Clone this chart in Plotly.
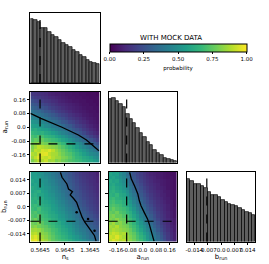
import numpy as np
import plotly.graph_objects as go

# ---------------- data ----------------
ns_range = [0.41, 1.525]
arun_range = [-0.205, 0.205]
brun_range = [-0.018, 0.018]
nbins = 20

ns_fid = 0.5645
arun_fid = -0.097
brun_fid = -0.0075

ns_ticks = [0.5645, 0.9645, 1.3645]
ns_ticktext = ["0.5645", "0.9645", "1.3645"]
arun_ticks = [-0.16, -0.08, 0.0, 0.08, 0.16]
arun_ticktext = ["-0.16", "-0.08", "0.0", "0.08", "0.16"]
brun_ticks = [-0.014, -0.007, 0.0, 0.007, 0.014]
brun_ticktext = ["-0.014", "-0.007", "0.0", "0.007", "0.014"]
cb_ticks = [0, 0.25, 0.5, 0.75, 1.0]
cb_ticktext = ["0.00", "0.25", "0.50", "0.75", "1.00"]

hist_ns = [191, 188, 180, 164, 162, 152, 142, 136, 128, 120, 114, 106, 98, 91, 83, 76, 68, 62, 58, 55]
hist_arun = [188, 189, 180, 172, 164, 142, 128, 116, 101, 88, 76, 61, 51, 38, 28, 21, 14, 9, 6, 3]
hist_brun = [187, 181, 172, 173, 167, 160, 149, 140, 139, 133, 124, 119, 112, 110, 105, 99, 95, 87, 85, 80]
hist_max = 208

# rows: bottom -> top ; cols: left -> right
z_ns_arun = [
    [.80, .85, .90, .88, .92, .85, .86, .80, .82, .78, .75, .72, .70, .68, .66, .62, .60, .58, .55, .52],
    [.85, .90, .95, .92, .90, .93, .88, .85, .84, .80, .78, .74, .70, .66, .64, .60, .58, .55, .50, .48],
    [.88, .86, .92, .95, .96, .90, .87, .86, .82, .78, .74, .72, .68, .64, .60, .56, .52, .48, .46, .44],
    [.82, .90, .88, .94, .92, .95, .90, .84, .80, .76, .72, .68, .64, .60, .56, .52, .48, .44, .40, .36],
    [.80, .85, .90, .88, .86, .84, .82, .80, .76, .72, .68, .64, .60, .55, .50, .46, .42, .38, .34, .30],
    [.78, .80, .82, .80, .78, .76, .74, .72, .70, .66, .62, .58, .54, .50, .46, .40, .36, .32, .28, .24],
    [.72, .76, .74, .76, .72, .70, .68, .66, .62, .58, .55, .50, .46, .42, .38, .34, .30, .26, .22, .18],
    [.70, .68, .72, .70, .66, .64, .62, .58, .55, .52, .48, .44, .40, .36, .32, .28, .24, .20, .16, .14],
    [.66, .64, .62, .64, .60, .58, .55, .52, .48, .45, .42, .38, .34, .30, .26, .22, .18, .15, .12, .10],
    [.60, .62, .58, .56, .55, .52, .48, .45, .42, .40, .36, .32, .28, .25, .22, .18, .15, .12, .10, .08],
    [.56, .55, .54, .52, .48, .46, .42, .40, .38, .34, .30, .28, .24, .20, .18, .15, .12, .10, .08, .07],
    [.52, .50, .48, .46, .44, .40, .38, .35, .32, .28, .26, .22, .20, .17, .14, .12, .10, .08, .07, .06],
    [.46, .45, .44, .42, .38, .35, .32, .30, .27, .24, .21, .18, .16, .14, .12, .10, .08, .07, .06, .05],
    [.42, .40, .38, .36, .33, .30, .28, .25, .22, .20, .18, .15, .13, .11, .10, .08, .07, .06, .05, .05],
    [.38, .36, .34, .31, .28, .26, .23, .20, .18, .16, .14, .12, .10, .09, .08, .07, .06, .05, .05, .04],
    [.32, .30, .28, .26, .24, .21, .19, .17, .15, .13, .11, .10, .09, .08, .07, .06, .05, .05, .04, .04],
    [.28, .26, .24, .22, .20, .18, .16, .14, .12, .11, .10, .09, .08, .07, .06, .05, .05, .04, .04, .03],
    [.24, .22, .20, .18, .16, .15, .13, .12, .10, .09, .08, .07, .06, .06, .05, .05, .04, .04, .03, .03],
    [.20, .18, .17, .15, .14, .12, .11, .10, .09, .08, .07, .06, .06, .05, .05, .04, .04, .03, .03, .03],
    [.16, .15, .14, .13, .12, .10, .09, .08, .08, .07, .06, .06, .05, .05, .04, .04, .03, .03, .03, .02],
]

z_ns_brun = [
    [.95, .98, .92, .88, .85, .80, .75, .72, .70, .68, .66, .62, .58, .55, .52, .48, .44, .40, .36, .34],
    [.92, .95, .90, .85, .82, .78, .74, .70, .68, .65, .62, .58, .55, .52, .48, .44, .40, .36, .34, .32],
    [.88, .90, .86, .82, .80, .76, .72, .68, .66, .62, .60, .56, .52, .48, .45, .42, .38, .34, .32, .30],
    [.85, .86, .84, .80, .76, .74, .70, .68, .64, .60, .58, .54, .50, .46, .42, .40, .36, .33, .30, .28],
    [.80, .82, .78, .76, .74, .70, .68, .64, .62, .58, .55, .52, .48, .44, .40, .37, .34, .31, .28, .26],
    [.78, .76, .80, .74, .70, .68, .66, .62, .60, .56, .52, .50, .46, .42, .38, .35, .32, .29, .26, .24],
    [.74, .78, .72, .70, .68, .66, .62, .60, .56, .54, .50, .47, .44, .40, .36, .33, .30, .27, .24, .22],
    [.72, .70, .74, .68, .66, .62, .60, .58, .54, .52, .48, .45, .42, .38, .34, .31, .28, .25, .22, .20],
    [.70, .72, .68, .66, .64, .60, .58, .55, .52, .50, .46, .43, .40, .36, .32, .29, .26, .23, .20, .18],
    [.68, .66, .70, .64, .62, .60, .56, .54, .50, .48, .44, .41, .38, .34, .30, .27, .24, .21, .19, .17],
    [.66, .68, .64, .62, .60, .58, .55, .52, .48, .46, .42, .39, .36, .32, .28, .25, .22, .20, .18, .16],
    [.64, .62, .66, .60, .58, .56, .53, .50, .47, .44, .40, .37, .34, .30, .27, .24, .21, .19, .17, .15],
    [.62, .64, .60, .60, .56, .54, .52, .48, .45, .42, .38, .35, .32, .28, .25, .22, .20, .18, .16, .14],
    [.60, .62, .58, .58, .55, .52, .50, .46, .44, .40, .36, .33, .30, .27, .24, .21, .19, .17, .15, .13],
    [.58, .60, .62, .56, .54, .50, .48, .45, .42, .38, .35, .32, .29, .26, .23, .20, .18, .16, .14, .12],
    [.60, .58, .56, .55, .52, .50, .47, .44, .40, .36, .33, .30, .27, .24, .21, .19, .17, .15, .13, .11],
    [.56, .58, .55, .54, .50, .48, .45, .42, .38, .35, .32, .29, .26, .23, .20, .18, .16, .14, .12, .11],
    [.58, .55, .56, .52, .50, .46, .44, .40, .37, .34, .31, .28, .25, .22, .19, .17, .15, .13, .12, .10],
    [.55, .56, .54, .50, .48, .45, .42, .38, .35, .33, .30, .27, .24, .21, .18, .16, .14, .13, .11, .10],
    [.54, .55, .52, .50, .46, .44, .40, .37, .34, .32, .29, .26, .23, .20, .17, .15, .14, .12, .11, .09],
]

z_arun_brun = [
    [.90, .95, .92, .88, .90, .85, .82, .78, .72, .68, .62, .55, .48, .42, .36, .30, .24, .18, .14, .10],
    [.92, .90, .95, .90, .86, .84, .80, .76, .70, .65, .60, .52, .46, .40, .34, .28, .22, .17, .13, .09],
    [.88, .92, .90, .86, .88, .82, .78, .74, .68, .62, .56, .50, .44, .38, .32, .26, .20, .16, .12, .09],
    [.85, .88, .86, .84, .82, .80, .76, .70, .64, .58, .52, .46, .40, .34, .28, .23, .18, .14, .11, .08],
    [.86, .84, .88, .82, .80, .78, .72, .68, .62, .55, .50, .43, .37, .31, .26, .21, .17, .13, .10, .08],
    [.82, .86, .80, .82, .78, .75, .70, .65, .58, .52, .46, .40, .34, .29, .24, .19, .15, .12, .09, .07],
    [.80, .78, .82, .78, .76, .72, .68, .62, .55, .48, .42, .36, .31, .26, .21, .17, .14, .11, .09, .07],
    [.78, .80, .76, .76, .72, .70, .64, .58, .52, .45, .40, .34, .29, .24, .19, .16, .13, .10, .08, .06],
    [.76, .74, .78, .72, .70, .66, .62, .55, .48, .42, .36, .31, .26, .22, .18, .15, .12, .10, .08, .06],
    [.72, .76, .72, .70, .68, .64, .58, .52, .45, .39, .34, .28, .24, .20, .16, .14, .11, .09, .07, .06],
    [.70, .72, .70, .68, .64, .60, .55, .48, .42, .36, .31, .26, .22, .18, .15, .13, .11, .09, .07, .05],
    [.68, .70, .66, .66, .62, .58, .52, .45, .39, .33, .28, .24, .20, .17, .14, .12, .10, .08, .07, .05],
    [.66, .68, .64, .62, .60, .55, .48, .42, .36, .30, .26, .22, .18, .15, .13, .11, .09, .08, .06, .05],
    [.64, .62, .66, .60, .58, .52, .45, .39, .33, .28, .24, .20, .17, .14, .12, .10, .09, .07, .06, .05],
    [.62, .64, .60, .58, .55, .50, .42, .36, .30, .26, .22, .18, .15, .13, .11, .10, .08, .07, .06, .05],
    [.60, .62, .58, .56, .52, .46, .39, .33, .28, .24, .20, .17, .14, .12, .10, .09, .08, .06, .05, .04],
    [.58, .60, .56, .54, .50, .43, .36, .30, .26, .22, .18, .15, .13, .11, .10, .08, .07, .06, .05, .04],
    [.60, .57, .58, .52, .48, .40, .34, .28, .24, .20, .17, .14, .12, .10, .09, .08, .07, .06, .05, .04],
    [.56, .58, .54, .50, .46, .38, .32, .27, .22, .19, .16, .13, .11, .10, .08, .07, .06, .05, .05, .04],
    [.58, .55, .56, .48, .44, .36, .30, .25, .21, .18, .15, .12, .10, .09, .08, .07, .06, .05, .04, .04],
]

# contour-like boundary lines
line_ns_arun_x = [0.41, 0.578, 0.917, 1.18, 1.31, 1.51]
line_ns_arun_y = [0.081, 0.052, 0.0, -0.045, -0.074, -0.136]

line_ns_brun_x = [0.892, 0.917, 0.996, 1.022, 1.085, 1.049, 1.10, 1.152, 1.18, 1.206, 1.242, 1.284, 1.336, 1.40, 1.44, 1.465]
line_ns_brun_y = [0.0178, 0.01525, 0.0118, 0.0092, 0.0078, 0.0061, 0.0044, 0.0023, -0.0003, -0.0029, -0.0055, -0.008, -0.0106, -0.0132, -0.015, -0.0178]
dots_ns_brun_x = [1.152, 1.336, 1.44]
dots_ns_brun_y = [-0.0029, -0.0063, -0.0124]

line_arun_brun_x = [-0.079, -0.069, -0.050, -0.030, -0.021, -0.011, 0.008, 0.028, 0.038, 0.047, 0.057, 0.067]
line_arun_brun_y = [0.0178, 0.0144, 0.0109, 0.0066, 0.0031, 0.0005, -0.0029, -0.0063, -0.0089, -0.0115, -0.015, -0.0178]


def centers(r):
    edges = np.linspace(r[0], r[1], nbins + 1)
    return 0.5 * (edges[:-1] + edges[1:]), edges[1] - edges[0]


ns_c, ns_w = centers(ns_range)
ar_c, ar_w = centers(arun_range)
br_c, br_w = centers(brun_range)

W, H = 269, 264
cols = [(26, 97), (106, 176), (186, 256)]
rows = [(13, 83), (92, 162.5), (172, 241.5)]


def xd(c):
    return [cols[c][0] / W, cols[c][1] / W]


def yd(r):
    return [1 - rows[r][1] / H, 1 - rows[r][0] / H]


fig = go.Figure()
FONT = "DejaVu Sans"
tickfont = dict(family=FONT, size=5.5, color="black")
titlefont = dict(family=FONT, size=7, color="black")

bar_style = dict(marker=dict(color="#5e5e5e", line=dict(color="black", width=0.7)), showlegend=False, hoverinfo="skip")

# histograms
fig.add_trace(go.Bar(x=ns_c, y=hist_ns, width=ns_w, xaxis="x", yaxis="y", **bar_style))
fig.add_trace(go.Bar(x=ar_c, y=hist_arun, width=ar_w, xaxis="x3", yaxis="y3", **bar_style))
fig.add_trace(go.Bar(x=br_c, y=hist_brun, width=br_w, xaxis="x6", yaxis="y6", **bar_style))

# heatmaps
fig.add_trace(go.Heatmap(x=ns_c, y=ar_c, z=z_ns_arun, coloraxis="coloraxis", xaxis="x2", yaxis="y2"))
fig.add_trace(go.Heatmap(x=ns_c, y=br_c, z=z_ns_brun, coloraxis="coloraxis", xaxis="x4", yaxis="y4"))
fig.add_trace(go.Heatmap(x=ar_c, y=br_c, z=z_arun_brun, coloraxis="coloraxis", xaxis="x5", yaxis="y5"))

lstyle = dict(mode="lines", line=dict(color="black", width=1.3), showlegend=False, hoverinfo="skip")
fig.add_trace(go.Scatter(x=line_ns_arun_x, y=line_ns_arun_y, xaxis="x2", yaxis="y2", **lstyle))
fig.add_trace(go.Scatter(x=line_ns_brun_x, y=line_ns_brun_y, xaxis="x4", yaxis="y4", **lstyle))
fig.add_trace(go.Scatter(x=dots_ns_brun_x, y=dots_ns_brun_y, xaxis="x4", yaxis="y4", mode="markers",
                         marker=dict(color="black", size=2.5), showlegend=False, hoverinfo="skip"))
fig.add_trace(go.Scatter(x=line_arun_brun_x, y=line_arun_brun_y, xaxis="x5", yaxis="y5", **lstyle))

# dashed fiducial lines
dash = dict(color="black", width=1.2, dash="dash")
def vline(xref, x):
    fig.add_shape(type="line", xref=xref, yref=xref.replace("x", "y") + " domain", x0=x, x1=x, y0=0, y1=1, line=dash)
def hline(yref, y):
    fig.add_shape(type="line", yref=yref, xref=yref.replace("y", "x") + " domain", y0=y, y1=y, x0=0, x1=1, line=dash)

vline("x", ns_fid)
vline("x2", ns_fid); hline("y2", arun_fid)
vline("x3", arun_fid)
vline("x4", ns_fid); hline("y4", brun_fid)
vline("x5", arun_fid); hline("y5", brun_fid)
vline("x6", brun_fid)

base_ax = dict(showline=True, linecolor="black", linewidth=1, mirror=True, showgrid=False, zeroline=False,
               ticks="outside", ticklen=2.5, tickwidth=0.8, tickcolor="black", tickfont=tickfont, tickangle=0)
noticks = dict(showline=True, linecolor="black", linewidth=1, mirror=True, showgrid=False, zeroline=False,
               ticks="", showticklabels=False)

layout_axes = {
    "xaxis": dict(domain=xd(0), range=ns_range, anchor="y", **noticks),
    "yaxis": dict(domain=yd(0), range=[0, hist_max], anchor="x", **noticks),
    "xaxis2": dict(domain=xd(0), range=ns_range, anchor="y2", tickvals=ns_ticks, showticklabels=False, **base_ax),
    "yaxis2": dict(domain=yd(1), range=arun_range, anchor="x2", tickvals=arun_ticks, ticktext=arun_ticktext,
                   title=dict(text="a<sub>run</sub>", font=titlefont, standoff=3), **base_ax),
    "xaxis3": dict(domain=xd(1), range=arun_range, anchor="y3", **noticks),
    "yaxis3": dict(domain=yd(1), range=[0, hist_max], anchor="x3", **noticks),
    "xaxis4": dict(domain=xd(0), range=ns_range, anchor="y4", tickvals=ns_ticks, ticktext=ns_ticktext,
                   title=dict(text="n<sub>s</sub>", font=titlefont, standoff=2), **base_ax),
    "yaxis4": dict(domain=yd(2), range=brun_range, anchor="x4", tickvals=brun_ticks, ticktext=brun_ticktext,
                   title=dict(text="b<sub>run</sub>", font=titlefont, standoff=3), **base_ax),
    "xaxis5": dict(domain=xd(1), range=arun_range, anchor="y5", tickvals=arun_ticks, ticktext=arun_ticktext,
                   title=dict(text="a<sub>run</sub>", font=titlefont, standoff=2), **base_ax),
    "yaxis5": dict(domain=yd(2), range=brun_range, anchor="x5", tickvals=brun_ticks, showticklabels=False, **base_ax),
    "xaxis6": dict(domain=xd(2), range=brun_range, anchor="y6", tickvals=brun_ticks, ticktext=brun_ticktext,
                   title=dict(text="b<sub>run</sub>", font=titlefont, standoff=2), **base_ax),
    "yaxis6": dict(domain=yd(2), range=[0, hist_max], anchor="x6", **noticks),
}

fig.update_layout(
    width=W, height=H,
    margin=dict(l=0, r=0, t=0, b=0),
    paper_bgcolor="white", plot_bgcolor="white",
    bargap=0,
    font=dict(family=FONT, size=6, color="black"),
    coloraxis=dict(
        colorscale="Viridis", cmin=0, cmax=1,
        colorbar=dict(
            orientation="h", x=177 / W, xanchor="center", y=1 - 44 / H, yanchor="top",
            len=140 / W, lenmode="fraction", thickness=8, xpad=0, ypad=0,
            outlinewidth=1, outlinecolor="black",
            ticks="outside", ticklen=2, tickwidth=0.8, tickcolor="black",
            tickvals=cb_ticks, ticktext=cb_ticktext, tickfont=tickfont,
            title=dict(text="probability", side="bottom", font=dict(family=FONT, size=5.5, color="black")),
        ),
    ),
    annotations=[dict(text="WITH MOCK DATA", x=170 / W, y=1 - 32 / H, xref="paper", yref="paper",
                      showarrow=False, font=dict(family=FONT, size=7, color="black"))],
    **layout_axes,
)

fig.write_html("out.html", config={"displayModeBar": False},
               post_script="document.body.style.margin='0';document.body.style.overflow='hidden';")
